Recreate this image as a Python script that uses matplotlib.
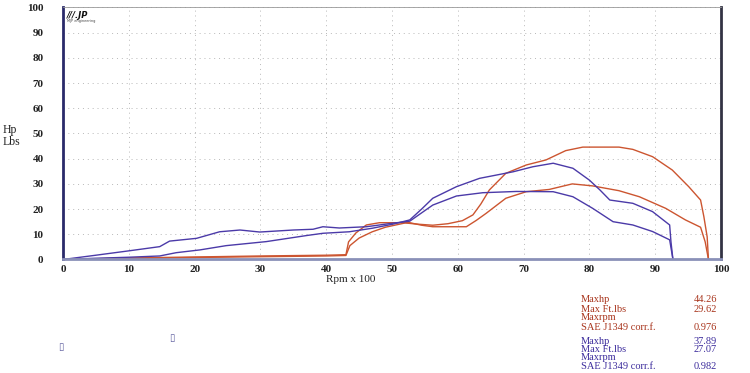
import matplotlib
matplotlib.use("Agg")
import matplotlib.pyplot as plt

# rpm x 100 / value pairs
red_hp_rpm = [0, 10, 20, 30, 40, 43.0, 43.6, 45, 47, 49, 52, 54, 56.2, 58.5, 60.7, 62.3, 63.5, 64.8, 67.3, 70.4, 73.4, 76.4, 79.0, 84.5, 86.6, 89.6, 92.6, 95.1, 96.9, 97.4, 97.9, 98.1]
red_hp = [0, 0.4, 0.8, 1.1, 1.4, 1.6, 5.5, 8.5, 11.0, 12.8, 14.5, 14.0, 13.6, 14.2, 15.4, 17.7, 22.0, 27.6, 34.2, 37.5, 39.5, 43.2, 44.6, 44.6, 43.7, 40.8, 35.5, 28.9, 23.6, 17.0, 9.0, 0]

red_tq_rpm = [0, 10, 20, 30, 40, 43.0, 43.4, 44.5, 46.1, 48.1, 50, 52.7, 54.5, 56.2, 61.3, 62.8, 64.3, 67.3, 70.4, 73.9, 77.4, 80.5, 84.5, 87.6, 91.6, 94.6, 96.9, 97.6, 98.1]
red_tq = [0, 0.6, 1.0, 1.4, 1.7, 1.9, 7.0, 10.5, 13.7, 14.6, 14.6, 14.6, 13.6, 13.0, 13.0, 15.5, 18.3, 24.3, 26.9, 27.8, 30.0, 29.2, 27.3, 24.9, 20.3, 15.7, 12.8, 7.0, 0]

blue_hp_rpm = [0, 5, 10, 14.7, 17.2, 20.8, 24.8, 30.9, 37.0, 39.5, 43.5, 47.0, 50.1, 52.7, 54.5, 56.2, 59.8, 63.3, 68.4, 71.4, 74.5, 77.5, 80.0, 81.6, 83.1, 86.6, 89.6, 92.2, 92.4, 92.7]
blue_hp = [0, 0.5, 0.9, 1.4, 2.7, 3.8, 5.5, 7.1, 9.5, 10.4, 11.0, 12.4, 14.0, 15.7, 20.0, 24.3, 28.9, 32.2, 34.8, 36.8, 38.2, 36.2, 31.5, 27.6, 23.6, 22.3, 19.0, 13.7, 7.0, 0]

blue_tq_rpm = [0, 5, 10.2, 14.7, 16.2, 20.3, 23.8, 26.9, 29.9, 35.0, 38.0, 39.5, 42.0, 46.1, 50.1, 52.7, 54.5, 56.2, 59.8, 63.8, 68.9, 74.5, 77.5, 80.5, 83.6, 86.6, 89.6, 92.2, 92.7]
blue_tq = [0, 1.7, 3.5, 5.1, 7.3, 8.4, 11.0, 11.7, 10.9, 11.7, 12.0, 13.0, 12.5, 13.0, 14.4, 15.2, 18.5, 21.6, 25.2, 26.5, 27.0, 26.9, 24.9, 20.3, 15.0, 13.7, 11.1, 7.8, 0]

x_ticks = [0, 10, 20, 30, 40, 50, 60, 70, 80, 90, 100]
y_ticks = [0, 10, 20, 30, 40, 50, 60, 70, 80, 90, 100]

red_labels = ["Maxhp", "Max Ft.lbs", "Maxrpm", "SAE J1349 corr.f."]
red_values = ["44.26", "29.62", "", "0.976"]
blue_labels = ["Maxhp", "Max Ft.lbs", "Maxrpm", "SAE J1349 corr.f."]
blue_values = ["37.89", "27.07", "", "0.982"]

RED = "#cc5530"
BLUE = "#4b3aa8"
RED_TXT = "#a8341c"
BLUE_TXT = "#3c2c9c"
SERIF = ["Liberation Serif", "DejaVu Serif"]

fig = plt.figure(figsize=(7.5, 3.73), dpi=100)
ax = fig.add_axes([0.084, 0.3043, 0.8773, 0.6756])

ax.plot(red_hp_rpm, red_hp, color=RED, lw=1.0)
ax.plot(red_tq_rpm, red_tq, color=RED, lw=1.0)
ax.plot(blue_hp_rpm, blue_hp, color=BLUE, lw=1.0)
ax.plot(blue_tq_rpm, blue_tq, color=BLUE, lw=1.0)

ax.set_xlim(0, 100)
ax.set_ylim(0, 100)
ax.set_xticks(x_ticks)
ax.set_yticks(y_ticks)
ax.tick_params(length=0, labelsize=8, pad=4)
ax.tick_params(axis="y", pad=14)
for lab in ax.get_xticklabels() + ax.get_yticklabels():
    lab.set_family(SERIF)
    lab.set_fontweight("bold")
    lab.set_color("#222222")

ax.grid(True, color="#b8b8b8", lw=0.7, linestyle=(0, (1, 4)))
ax.spines["left"].set_color("#2a2a6a")
ax.spines["left"].set_linewidth(2)
ax.spines["bottom"].set_color("#8a90b8")
ax.spines["bottom"].set_linewidth(2)
ax.spines["right"].set_color("#333344")
ax.spines["right"].set_linewidth(2)
ax.spines["top"].set_color("#999999")
ax.spines["top"].set_linewidth(0.6)

# small logo top-left
ax.text(0.6, 98.5, "///.JP", fontsize=6, fontstyle="italic", fontweight="bold",
        color="#111111", va="top", ha="left")
ax.text(0.6, 95.3, "MJP engineering", fontsize=2.5, color="#444444", va="top", ha="left")

fig.text(0.004, 0.635, "Hp\nLbs", fontsize=8.5, family=SERIF, color="#222222",
         va="center", ha="left", linespacing=1.05)
fig.text(351 / 750, 1 - 279 / 373, "Rpm x 100", fontsize=8, family=SERIF, color="#222222",
         va="center", ha="center")

# summary block
for i, (lab, val) in enumerate(zip(red_labels, red_values)):
    y = 1 - (300 + i * 9) / 373
    fig.text(581 / 750, y, lab, fontsize=7.5, family=SERIF, color=RED_TXT, va="center")
    fig.text(694 / 750, y, val, fontsize=7.5, family=SERIF, color=RED_TXT, va="center")
for i, (lab, val) in enumerate(zip(blue_labels, blue_values)):
    y = 1 - (341 + i * 8.5) / 373
    fig.text(581 / 750, y, lab, fontsize=7.5, family=SERIF, color=BLUE_TXT, va="center")
    fig.text(694 / 750, y, val, fontsize=7.5, family=SERIF, color=BLUE_TXT, va="center")

fig.text(61 / 750, 1 - 347 / 373, "\u25af", fontsize=7, color="#6060a0", ha="center", va="center")
fig.text(172 / 750, 1 - 338 / 373, "\u25af", fontsize=7, color="#6060a0", ha="center", va="center")

fig.savefig("out.png", dpi=100)
